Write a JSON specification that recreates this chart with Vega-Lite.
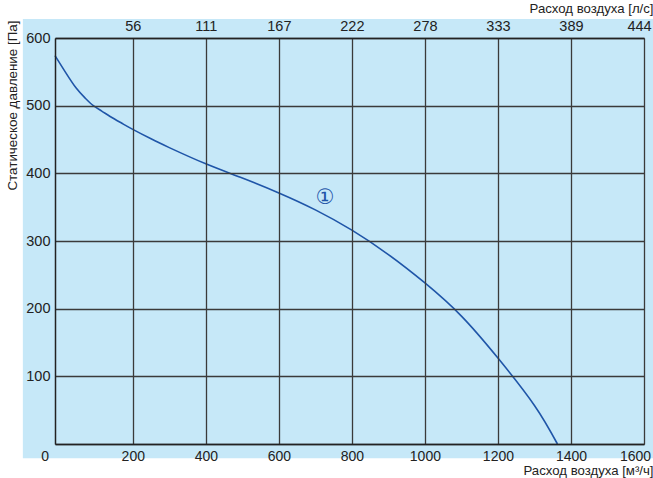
{
  "$schema": "https://vega.github.io/schema/vega-lite/v6.json",
  "autosize": {"type": "none"},
  "width": 589,
  "height": 406,
  "padding": {"left": 55, "top": 38, "right": 9, "bottom": 34},
  "background": "white",
  "config": {"view": {"stroke": null}},
  "datasets": {
    "curve": [
      {"q": -13, "p": 574},
      {"q": 15, "p": 550},
      {"q": 45, "p": 526},
      {"q": 70, "p": 511},
      {"q": 92, "p": 500},
      {"q": 115, "p": 492},
      {"q": 138, "p": 484},
      {"q": 170, "p": 474},
      {"q": 200, "p": 465},
      {"q": 250, "p": 451},
      {"q": 300, "p": 438},
      {"q": 400, "p": 414},
      {"q": 500, "p": 393},
      {"q": 600, "p": 371},
      {"q": 700, "p": 346},
      {"q": 800, "p": 316},
      {"q": 900, "p": 280},
      {"q": 1000, "p": 238},
      {"q": 1100, "p": 189},
      {"q": 1200, "p": 127},
      {"q": 1300, "p": 57},
      {"q": 1363, "p": 0}
    ],
    "labels": [{"q": 727, "p": 364, "label": "①"}],
    "bg": [{"x1": -101, "x2": 1626, "y1": -21, "y2": 628}]
  },
  "layer": [
    {
      "data": {"name": "bg"},
      "mark": {"type": "rect", "color": "#c6e8f8", "clip": false},
      "encoding": {
        "x": {"field": "x1", "type": "quantitative", "scale": {"domain": [-13, 1600], "nice": false, "zero": false}, "axis": null},
        "x2": {"field": "x2"},
        "y": {"field": "y1", "type": "quantitative", "scale": {"domain": [0, 600], "nice": false}, "axis": null},
        "y2": {"field": "y2"}
      }
    },
    {
      "data": {"name": "curve"},
      "mark": {"type": "line", "color": "#1f55a8", "strokeWidth": 1.6, "interpolate": "natural"},
      "encoding": {
        "x": {
          "field": "q", "type": "quantitative",
          "axis": {
            "orient": "bottom", "zindex": 1,
            "values": [0, 200, 400, 600, 800, 1000, 1200, 1400, 1600],
            "labelExpr": "format(datum.value, 'd')",
            "grid": true, "gridColor": "#3a3a3a", "gridWidth": 1.3,
            "gridOpacity": {"condition": {"test": "datum.value == 0", "value": 0}, "value": 1},
            "ticks": false,
            "domain": true, "domainColor": "#222222", "domainWidth": 1.5,
            "labelFont": "Liberation Sans", "labelFontSize": 14, "labelColor": "#222222",
            "labelPadding": 5, "labelFlush": false, "labelOverlap": false, "labelBound": false,
            "labelOffset": {"condition": [{"test": "datum.value == 0", "value": -15}, {"test": "datum.value == 1600", "value": -9}], "value": 0},
            "title": "Расход воздуха [м³/ч]",
            "titleFont": "Liberation Sans", "titleFontSize": 13.2, "titleFontWeight": "normal", "titleColor": "#222222",
            "titleAnchor": null, "titleAlign": "right", "titleBaseline": "alphabetic",
            "titleX": 598, "titleY": 30
          }
        },
        "y": {
          "field": "p", "type": "quantitative",
          "axis": {
            "orient": "left", "zindex": 1,
            "values": [0, 100, 200, 300, 400, 500, 600],
            "labelExpr": "datum.value == 0 ? '' : datum.label",
            "grid": true, "gridColor": "#3a3a3a", "gridWidth": 1.3,
            "ticks": false,
            "domain": true, "domainColor": "#222222", "domainWidth": 1.5,
            "labelFont": "Liberation Sans", "labelFontSize": 14.5, "labelColor": "#222222",
            "labelPadding": 5, "labelFlush": false, "labelOverlap": false, "labelBound": false,
            "title": "Статическое давление [Па]",
            "titleFont": "Liberation Sans", "titleFontSize": 13.4, "titleFontWeight": "normal", "titleColor": "#222222",
            "titleAnchor": null, "titleAngle": -90, "titleAlign": "right", "titleBaseline": "middle",
            "titleX": -43, "titleY": -18
          }
        }
      }
    },
    {
      "data": {"name": "labels"},
      "mark": {"type": "text", "font": "DejaVu Sans", "fontSize": 21, "color": "#1f55a8", "baseline": "middle", "align": "center"},
      "encoding": {
        "x": {
          "field": "q", "type": "quantitative",
          "axis": {
            "orient": "top", "zindex": 1,
            "values": [200, 400, 600, 800, 1000, 1200, 1400, 1600],
            "labelExpr": "format(datum.value / 3.6, '.0f')",
            "grid": false, "ticks": false,
            "domain": true, "domainColor": "#222222", "domainWidth": 1.3,
            "labelFont": "Liberation Sans", "labelFontSize": 14.5, "labelColor": "#222222",
            "labelPadding": 5, "labelFlush": false, "labelOverlap": false, "labelBound": false,
            "labelOffset": {"condition": {"test": "datum.value == 1600", "value": -5}, "value": 0},
            "title": "Расход воздуха [л/с]",
            "titleFont": "Liberation Sans", "titleFontSize": 13.2, "titleFontWeight": "normal", "titleColor": "#222222",
            "titleAnchor": null, "titleAlign": "right", "titleBaseline": "alphabetic",
            "titleX": 598, "titleY": -26
          }
        },
        "y": {"field": "p", "type": "quantitative", "axis": null},
        "text": {"field": "label"}
      }
    }
  ],
  "resolve": {"axis": {"x": "independent", "y": "independent"}}
}
